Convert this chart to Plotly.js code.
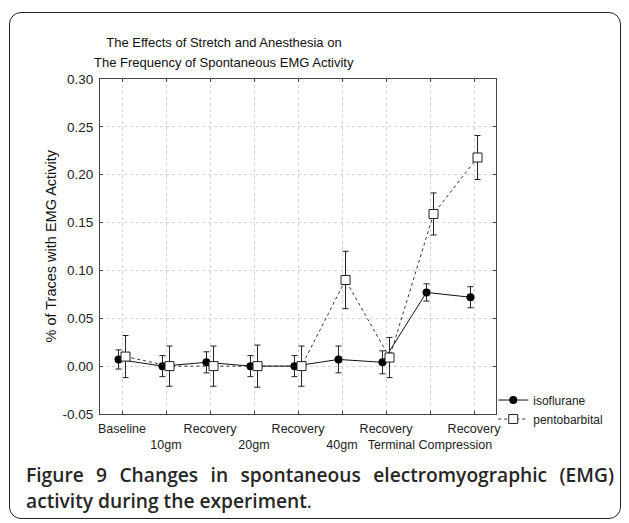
<!DOCTYPE html>
<html>
<head>
<meta charset="utf-8">
<script src="https://cdn.plot.ly/plotly-3.0.1.min.js"></script>
<style>
  html, body { margin: 0; padding: 0; background: #ffffff; }
  #wrap { position: relative; width: 629px; height: 523px; overflow: hidden; }
  #frame { position: absolute; left: 9px; top: 12px; width: 612px; height: 507px;
           border: 1.5px solid #222; border-radius: 12px; box-sizing: border-box; }
  #chart { position: absolute; left: 0; top: 0; width: 629px; height: 523px; }
  #caption { position: absolute; left: 26px; top: 462px; width: 588px;
             font-family: "Open Sans", sans-serif; font-weight: 600; font-size: 19.2px;
             color: #262626; line-height: 26px; }
  #caption .l1 { text-align: justify; text-align-last: justify; white-space: nowrap; }
  #caption .dot { font-weight: 400; }
</style>
</head>
<body>
<div id="wrap">
  <div id="frame"></div>
  <div id="chart"></div>
  <div id="caption">
    <div class="l1">Figure 9 Changes in spontaneous electromyographic (EMG)</div>
    <div>activity during the experiment<span class="dot">.</span></div>
  </div>
</div>
<script>
const categories = ["Baseline", "10gm", "Recovery", "20gm", "Recovery", "40gm", "Recovery", "Terminal Compression", "Recovery"];
const isoflurane = [0.007, 0.000, 0.004, 0.000, 0.000, 0.007, 0.004, 0.077, 0.072];
const isofluraneErr = [0.010, 0.011, 0.011, 0.011, 0.011, 0.014, 0.012, 0.009, 0.011];
const pentobarbital = [0.010, 0.000, 0.000, 0.000, 0.000, 0.090, 0.009, 0.159, 0.218];
const pentobarbitalErr = [0.022, 0.021, 0.021, 0.022, 0.021, 0.030, 0.021, 0.022, 0.023];
const yTicks = [-0.05, 0.00, 0.05, 0.10, 0.15, 0.20, 0.25, 0.30];
const titleLines = ["The Effects of Stretch and Anesthesia on", "The Frequency of Spontaneous EMG Activity"];

const idx = categories.map((c, i) => i);
const tickText = categories.map((c, i) => (i % 2 === 0 ? c : "<br>" + c));
const offset = 0.08;

const traces = [
  {
    name: "isoflurane",
    x: idx.map(i => i - offset),
    y: isoflurane,
    type: "scatter",
    mode: "lines+markers",
    line: { color: "#111", width: 1 },
    marker: { symbol: "circle", size: 8, color: "#000" },
    error_y: { type: "data", array: isofluraneErr, visible: true, color: "#222", thickness: 1, width: 3 }
  },
  {
    name: "pentobarbital",
    x: idx.map(i => i + offset),
    y: pentobarbital,
    type: "scatter",
    mode: "lines+markers",
    line: { color: "#333", width: 1, dash: "3px,3px" },
    marker: { symbol: "square", size: 9, color: "#fff", line: { color: "#222", width: 1 } },
    error_y: { type: "data", array: pentobarbitalErr, visible: true, color: "#222", thickness: 1, width: 3 }
  }
];

const layout = {
  width: 629,
  height: 523,
  margin: { l: 100, r: 133, t: 79, b: 109 },
  paper_bgcolor: "rgba(0,0,0,0)",
  plot_bgcolor: "#ffffff",
  font: { family: "Liberation Sans, Arial, sans-serif", size: 12, color: "#222" },
  showlegend: true,
  legend: {
    x: 0.993, xanchor: "left", y: 0.085, yanchor: "top",
    font: { size: 12, color: "#222" },
    bgcolor: "rgba(0,0,0,0)", itemwidth: 30, tracegroupgap: 0
  },
  title: {
    text: titleLines[0],
    xref: "container", yref: "container", x: 224 / 629, xanchor: "center",
    y: 1 - 42 / 523, yanchor: "middle",
    font: { size: 13, color: "#111" }
  },
  xaxis: {
    range: [-0.5, categories.length - 0.5],
    tickmode: "array",
    tickvals: idx,
    ticktext: tickText,
    tickangle: 0,
    ticklabelstandoff: 3,
    showgrid: true, gridcolor: "#d2d2d2", griddash: "dot", gridwidth: 1,
    showline: true, linecolor: "#444", linewidth: 1, mirror: "allticks",
    ticks: "inside", ticklen: 3, tickcolor: "#444",
    zeroline: false,
    tickfont: { size: 12.5, color: "#222" }
  },
  yaxis: {
    range: [-0.05, 0.30],
    tickmode: "array",
    tickvals: yTicks,
    ticktext: yTicks.map(v => v.toFixed(2)),
    ticklabelstandoff: 3,
    showgrid: true, gridcolor: "#d2d2d2", griddash: "dot", gridwidth: 1,
    showline: true, linecolor: "#444", linewidth: 1, mirror: "allticks",
    ticks: "inside", ticklen: 3, tickcolor: "#444",
    zeroline: false,
    tickfont: { size: 13.5, color: "#222" }
  },
  annotations: [
    {
      text: titleLines[1],
      xref: "paper", yref: "paper", x: (224 - 100) / 396, y: (414 - 62) / 335,
      xanchor: "center", yanchor: "middle", showarrow: false,
      font: { size: 13, color: "#111" }
    },
    {
      text: "% of Traces with EMG Activity",
      xref: "paper", yref: "paper", x: (50 - 100) / 396, y: 0.5,
      xanchor: "center", yanchor: "middle", textangle: -90, showarrow: false,
      font: { size: 14.5, color: "#111" }
    }
  ]
};

Plotly.newPlot("chart", traces, layout, { displayModeBar: false, staticPlot: true });
</script>
</body>
</html>
